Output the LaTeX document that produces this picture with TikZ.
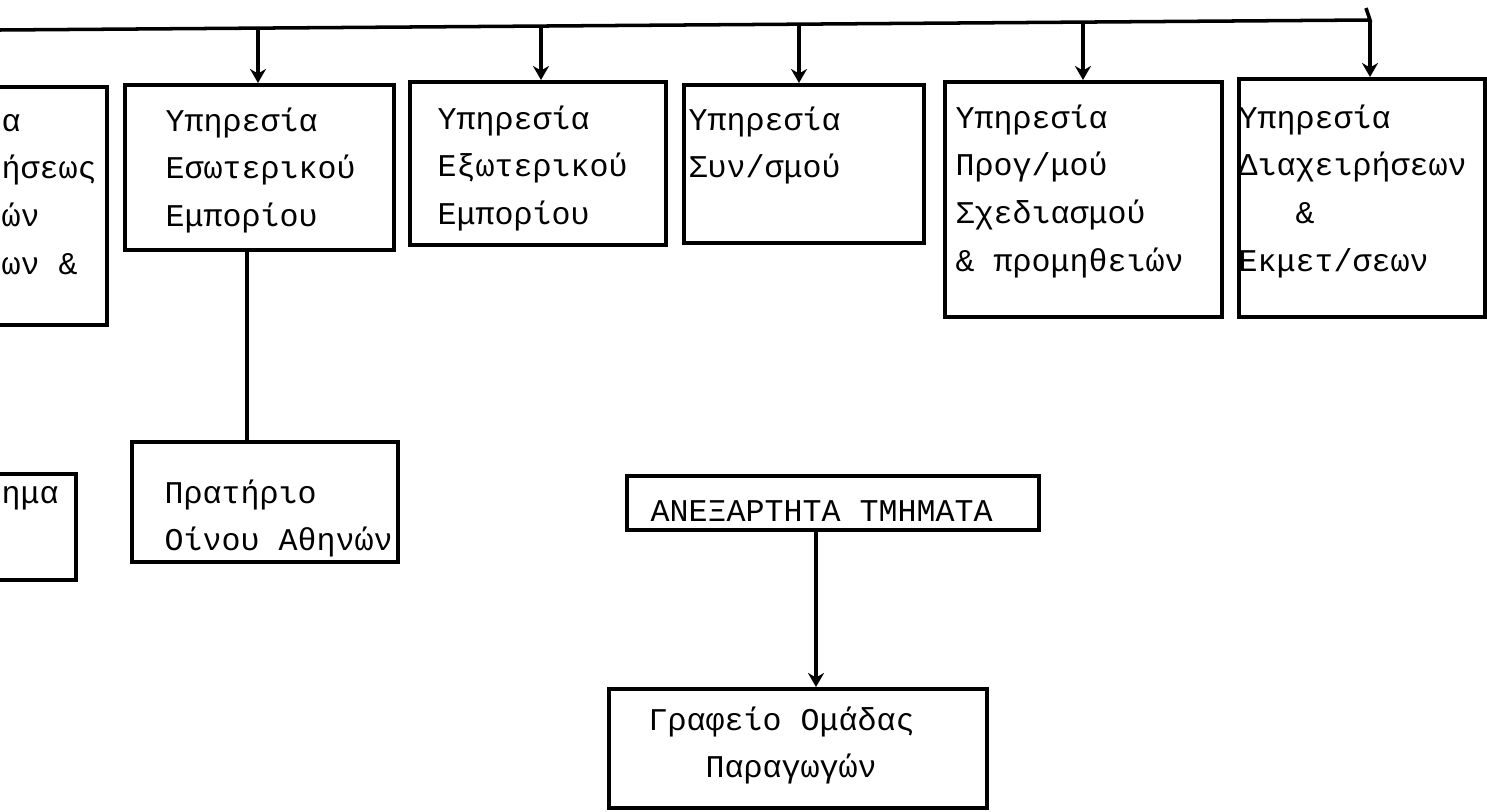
\documentclass[tikz,border=0pt]{standalone}
\usepackage{fontspec}
\setmonofont{Liberation Mono}
\usetikzlibrary{arrows.meta,calc}
\newcommand{\tw}{\ttfamily\fontsize{9}{13.6}\selectfont}
\newcommand{\gap}{\phantom{ω}}

\begin{document}
\begin{tikzpicture}[
    x=0.01cm, y=-0.01cm,
    box/.style={draw, line width=1pt, anchor=north west, inner sep=0pt},
    txt/.style={anchor=base west, align=left, text width=4.5cm, inner sep=0pt, font=\tw},
    link/.style={line width=1pt},
    drop/.style={line width=1pt, -{Stealth[length=0.14cm, width=0.16cm]}}
]
    \useasboundingbox (0,0) rectangle (1487,812);

    % Services under the bus
    \node[box, minimum width=1.65cm, minimum height=2.38cm] (cutL) at (-60,85) {};
    \node[box, minimum width=2.69cm, minimum height=1.65cm] (esot) at (123,83) {};
    \node[box, minimum width=2.56cm, minimum height=1.63cm] (exot) at (408,80) {};
    \node[box, minimum width=2.40cm, minimum height=1.58cm] (synet) at (682,83) {};
    \node[box, minimum width=2.77cm, minimum height=2.35cm] (progr) at (943,80) {};
    \node[box, minimum width=2.46cm, minimum height=2.38cm] (diax) at (1237,77) {};

    \node[txt] (cutLT) at (1,131) {α\\ήσεως\\ών\\ων\gap\&};
    \node[txt] (esotT) at (165,131) {Υπηρεσία\\Εσωτερικού\\Εμπορίου};
    \node[txt] (exotT) at (437,129) {Υπηρεσία\\Εξωτερικού\\Εμπορίου};
    \node[txt] (synetT) at (688,130) {Υπηρεσία\\Συν/σμού};
    \node[txt] (progrT) at (955,128) {Υπηρεσία\\Προγ/μού\\Σχεδιασμού\\\&\gap προμηθειών};
    \node[txt] (diaxT) at (1238,128) {Υπηρεσία\\Διαχειρήσεων\\\gap\gap\gap\&\\Εκμετ/σεων};

    % Lower boxes
    \node[box, minimum width=1.34cm, minimum height=1.06cm] (cutB) at (-60,472) {};
    \node[box, minimum width=2.66cm, minimum height=1.20cm] (pratirio) at (130,440) {};
    \node[box, minimum width=4.12cm, minimum height=0.54cm] (anex) at (625,474) {};
    \node[box, minimum width=3.78cm, minimum height=1.19cm] (omada) at (607,687) {};

    \node[txt] (cutBT) at (1,503) {ημα};
    \node[txt] (pratirioT) at (164,503) {Πρατήριο\\Οίνου\gap Αθηνών};
    \node[txt] (anexT) at (650,521) {ΑΝΕΞΑΡΤΗΤΑ\gap ΤΜΗΜΑΤΑ};
    \node[txt] (omadaT) at (648,730) {Γραφείο\gap Ομάδας\\\gap\gap\gap Παραγωγών};

    % Bus and drops
    \coordinate (busL) at (0,30);
    \coordinate (busR) at (1370,20);
    \draw[link] (busL) -- (busR) -- ++(-4,-12);
    \foreach \b/\x [count=\i] in {esot/258, exot/541, synet/799, progr/1083, diax/1370} {
        \coordinate (d\i) at ($(busL)!{\x/1370}!(busR)$);
        \draw[drop] (d\i) -- (d\i |- \b.north);
    }

    % Connections below
    \coordinate (stemA) at (247,0);
    \coordinate (stemB) at (816,0);
    \draw[link] (esot.south -| stemA) -- (pratirio.north -| stemA);
    \draw[drop] (anex.south -| stemB) -- (omada.north -| stemB);
\end{tikzpicture}
\end{document}
